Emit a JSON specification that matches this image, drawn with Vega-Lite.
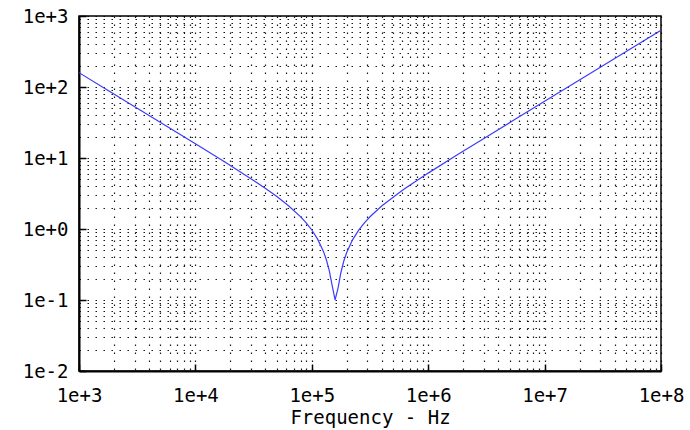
{
  "$schema": "https://vega.github.io/schema/vega-lite/v6.json",
  "autosize": "none",
  "padding": {"left": 79, "top": 16, "right": 29, "bottom": 59},
  "width": 582,
  "height": 355,
  "background": "white",
  "config": {
    "view": {"stroke": "black", "strokeWidth": 1.5},
    "axis": {
      "labelFont": "DejaVu Sans Mono",
      "labelFontSize": 19,
      "labelColor": "black",
      "titleFont": "DejaVu Sans Mono",
      "titleFontSize": 19,
      "titleFontWeight": "normal",
      "titleColor": "black",
      "grid": true,
      "gridColor": "black",
      "gridDash": [1.5, 6.5],
      "gridWidth": 1.2,
      "gridOpacity": 0.9,
      "ticks": true,
      "tickSize": -7,
      "tickWidth": 1.5,
      "tickColor": {"condition": {"test": "abs(log(datum.value)/LN10 - round(log(datum.value)/LN10)) < 0.001", "value": "black"}, "value": "transparent"},
      "domainColor": "black",
      "domainWidth": 2,
      "labelOverlap": false,
      "labelBound": false,
      "labelFlush": false
    }
  },
  "data": {
    "values": [
      {"f": 1000, "z": 159.15},
      {"f": 1778.3, "z": 89.49},
      {"f": 3162.3, "z": 50.31},
      {"f": 5623.4, "z": 28.27},
      {"f": 10000, "z": 15.85},
      {"f": 17783, "z": 8.838},
      {"f": 31623, "z": 4.834},
      {"f": 39811, "z": 3.747},
      {"f": 50119, "z": 2.86},
      {"f": 63096, "z": 2.128},
      {"f": 79433, "z": 1.508},
      {"f": 89125, "z": 1.23},
      {"f": 100000, "z": 0.968},
      {"f": 112202, "z": 0.72},
      {"f": 125893, "z": 0.484},
      {"f": 133352, "z": 0.369},
      {"f": 141254, "z": 0.259},
      {"f": 149624, "z": 0.159},
      {"f": 158489, "z": 0.1003},
      {"f": 167880, "z": 0.146},
      {"f": 177828, "z": 0.244},
      {"f": 188365, "z": 0.354},
      {"f": 199526, "z": 0.467},
      {"f": 223872, "z": 0.703},
      {"f": 251189, "z": 0.95},
      {"f": 281838, "z": 1.21},
      {"f": 316228, "z": 1.487},
      {"f": 398107, "z": 2.104},
      {"f": 562341, "z": 3.25},
      {"f": 630957, "z": 3.713},
      {"f": 1000000, "z": 6.124},
      {"f": 1778279, "z": 11.084},
      {"f": 3162278, "z": 19.82},
      {"f": 5623413, "z": 35.3},
      {"f": 10000000, "z": 62.82},
      {"f": 17782794, "z": 111.72},
      {"f": 31622777, "z": 198.7},
      {"f": 56234133, "z": 353.3},
      {"f": 100000000, "z": 628.3}
    ]
  },
  "mark": {"type": "line", "color": "#3b3bff", "strokeWidth": 1.2, "clip": true},
  "encoding": {
    "x": {
      "field": "f",
      "type": "quantitative",
      "scale": {"type": "log", "domain": [1000, 100000000], "nice": false},
      "axis": {
        "title": "Frequency - Hz",
        "labelPadding": 22,
        "titlePadding": 3,
        "values": [1000,2000,3000,4000,5000,6000,7000,8000,9000,10000,20000,30000,40000,50000,60000,70000,80000,90000,100000,200000,300000,400000,500000,600000,700000,800000,900000,1000000,2000000,3000000,4000000,5000000,6000000,7000000,8000000,9000000,10000000,20000000,30000000,40000000,50000000,60000000,70000000,80000000,90000000,100000000],
        "labelExpr": "abs(log(datum.value)/LN10 - round(log(datum.value)/LN10)) < 0.001 ? format(datum.value, '.0e') : ''"
      }
    },
    "y": {
      "field": "z",
      "type": "quantitative",
      "scale": {"type": "log", "domain": [0.01, 1000], "nice": false},
      "axis": {
        "title": null,
        "labelPadding": 18,
        "values": [0.01,0.02,0.03,0.04,0.05,0.06,0.07,0.08,0.09,0.1,0.2,0.3,0.4,0.5,0.6,0.7,0.8,0.9,1,2,3,4,5,6,7,8,9,10,20,30,40,50,60,70,80,90,100,200,300,400,500,600,700,800,900,1000],
        "labelExpr": "abs(log(datum.value)/LN10 - round(log(datum.value)/LN10)) < 0.001 ? format(datum.value, '.0e') : ''"
      }
    }
  }
}
